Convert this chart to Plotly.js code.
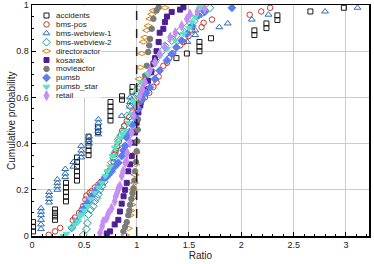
<!DOCTYPE html>
<html><head><meta charset="utf-8">
<script src="https://cdn.plot.ly/plotly-3.0.1.min.js"></script>
<style>html,body{margin:0;padding:0;background:#fff}#chart{width:374px;height:264px}</style>
</head><body><div id="chart"></div>
<script>
// ---- data ----
const seriesNames = ['accidents','bms-pos','bms-webview-1','bms-webview-2','directoractor','kosarak','movieactor','pumsb','pumsb_star','retail'];

const accidentsX = [0.01,0.01,0.01,0.22,0.22,0.22,0.22,0.325,0.325,0.325,0.325,0.325,0.43,0.43,0.43,0.43,0.43,0.43,0.54,0.54,0.54,0.54,0.54,0.63,0.63,0.75,0.75,0.75,0.75,0.75,0.86,0.86,0.96,0.96,1.38,1.48,1.60,1.60,1.60,1.71,2.125,2.125,2.24,2.24,2.345,2.345,2.66,2.98];
const accidentsY = [0.02,0.04,0.06,0.07,0.085,0.10,0.115,0.15,0.17,0.19,0.21,0.23,0.24,0.26,0.28,0.30,0.32,0.34,0.35,0.37,0.39,0.41,0.43,0.45,0.47,0.50,0.52,0.54,0.56,0.58,0.59,0.605,0.625,0.645,0.77,0.79,0.80,0.82,0.84,0.856,0.87,0.89,0.90,0.92,0.935,0.955,0.972,0.988];

const bmsPosX = [0.16,0.22,0.27,0.39,0.41,0.45,0.475,0.49,0.51,0.52,0.55,0.57,0.6,0.634,0.66,0.69,0.73,0.75,0.77,0.78,0.79,0.80,0.815,0.83,0.845,0.86,0.88,0.905,0.93,0.96,1.0,1.04,1.08,1.12,1.16,1.19,1.21,1.255,1.29,1.31,1.35,1.415,1.45,1.495,1.53,1.62,1.64,1.72,2.08,2.19,2.275];
const bmsPosY = [0.005,0.02,0.035,0.068,0.08,0.1,0.114,0.13,0.158,0.175,0.187,0.194,0.21,0.223,0.235,0.25,0.274,0.287,0.30,0.32,0.353,0.37,0.39,0.41,0.433,0.455,0.475,0.498,0.515,0.535,0.555,0.575,0.6,0.62,0.645,0.665,0.69,0.737,0.75,0.77,0.79,0.825,0.84,0.865,0.89,0.904,0.923,0.937,0.958,0.972,0.988];

const webview1X = [0.086,0.086,0.086,0.086,0.086,0.086,0.163,0.163,0.163,0.163,0.242,0.242,0.242,0.242,0.318,0.318,0.318,0.395,0.395,0.47,0.47,0.47,0.47,0.545,0.545,0.545,0.634,0.634,0.634,0.634,0.634,0.857,0.937,0.937,0.937,1.485,1.56,1.56,1.79,1.87,2.10,2.26,2.80,3.11];
const webview1Y = [0.03,0.05,0.07,0.09,0.105,0.12,0.145,0.16,0.175,0.19,0.20,0.215,0.23,0.245,0.255,0.27,0.29,0.30,0.32,0.34,0.355,0.37,0.39,0.40,0.415,0.43,0.44,0.455,0.47,0.49,0.505,0.52,0.56,0.58,0.60,0.84,0.87,0.89,0.904,0.92,0.937,0.958,0.972,0.988];

const webview2X = [0.49,0.52,0.53,0.54,0.56,0.586,0.60,0.618,0.634,0.65,0.67,0.69,0.71,0.73,0.76,0.78,0.79,0.81,0.825,0.85,0.87,0.89,0.91,0.937,0.97,1.0,1.03,1.06,1.11,1.14,1.18,1.21,1.24,1.27,1.335,1.38,1.415,1.48,1.55,1.62,1.65,1.70];
const webview2Y = [0.005,0.03,0.056,0.093,0.114,0.129,0.15,0.165,0.18,0.2,0.216,0.235,0.255,0.28,0.317,0.339,0.36,0.384,0.419,0.435,0.448,0.48,0.52,0.563,0.593,0.62,0.645,0.665,0.70,0.716,0.76,0.78,0.80,0.824,0.846,0.868,0.89,0.904,0.93,0.962,0.975,0.988];

const directorX = [0.89,0.92,0.937,0.945,0.953,0.962,0.97,0.978,0.985,0.99,0.993,0.996,1.0,1.005,1.01,1.016,1.025,1.035,1.05,1.064,1.08,1.096,1.11,1.128,1.145,1.16,1.27];
const directorY = [0.005,0.033,0.09,0.11,0.135,0.165,0.2,0.23,0.265,0.31,0.36,0.41,0.46,0.53,0.59,0.64,0.68,0.73,0.79,0.84,0.86,0.89,0.91,0.94,0.96,0.976,0.988];

const kosarakX = [0.714,0.746,0.79,0.825,0.84,0.857,0.875,0.89,0.905,0.92,0.937,0.953,0.97,0.985,1.0,1.016,1.035,1.05,1.08,1.11,1.14,1.16,1.176,1.19,1.21,1.22,1.255,1.27,1.29,1.335,1.415,1.447];
const kosarakY = [0.011,0.02,0.05,0.07,0.106,0.14,0.172,0.2,0.23,0.28,0.31,0.346,0.404,0.448,0.49,0.535,0.565,0.593,0.636,0.672,0.709,0.745,0.77,0.80,0.84,0.88,0.897,0.926,0.95,0.97,0.98,0.99];

const movieX = [0.873,0.89,0.905,0.92,0.93,0.937,0.95,0.96,0.97,0.978,0.985,0.993,1.0,1.005,1.01,1.013,1.016,1.03,1.05,1.065,1.08,1.097,1.11,1.12,1.128,1.144,1.16,1.19,1.21];
const movieY = [0.02,0.04,0.06,0.09,0.11,0.135,0.16,0.185,0.207,0.24,0.28,0.32,0.367,0.41,0.46,0.505,0.55,0.58,0.62,0.66,0.694,0.737,0.796,0.825,0.853,0.897,0.94,0.976,0.99];

const pumsbX = [0.38,0.43,0.475,0.50,0.52,0.55,0.57,0.60,0.63,0.66,0.70,0.73,0.76,0.79,0.825,0.857,0.875,0.89,0.905,0.93,0.96,0.985,1.016,1.05,1.09,1.128,1.176,1.22,1.29,1.335,1.38,1.43,1.48,1.53,1.59,1.65,1.91];
const pumsbY = [0.035,0.063,0.1,0.12,0.136,0.155,0.172,0.19,0.21,0.23,0.252,0.265,0.28,0.30,0.317,0.346,0.37,0.39,0.426,0.45,0.48,0.513,0.55,0.593,0.62,0.643,0.68,0.716,0.76,0.788,0.817,0.846,0.875,0.91,0.955,0.97,0.988];

const pumsbStarX = [0.30,0.33,0.38,0.41,0.44,0.46,0.475,0.50,0.53,0.56,0.60,0.634,0.666,0.70,0.72,0.746,0.77,0.79,0.815,0.84,0.865,0.89,0.92,0.95,0.975,1.0,1.05,1.11,1.176,1.22,1.29,1.37,1.45,1.50,1.53,1.56,1.61];
const pumsbStarY = [0.0,0.01,0.035,0.05,0.063,0.085,0.093,0.11,0.13,0.16,0.187,0.21,0.23,0.26,0.28,0.30,0.346,0.383,0.405,0.426,0.44,0.455,0.49,0.53,0.58,0.63,0.665,0.70,0.745,0.78,0.81,0.846,0.875,0.90,0.925,0.948,0.99];

const retailX = [0.65,0.67,0.68,0.714,0.73,0.76,0.79,0.80,0.816,0.825,0.84,0.857,0.87,0.89,0.905,0.91,0.937,0.953,0.97,1.0,1.03,1.055,1.08,1.128,1.176,1.22,1.27,1.32,1.37,1.43,1.48,1.51,1.58,1.65];
const retailY = [0.013,0.042,0.062,0.078,0.098,0.12,0.15,0.172,0.19,0.207,0.216,0.26,0.28,0.317,0.323,0.36,0.404,0.448,0.52,0.563,0.607,0.635,0.665,0.716,0.752,0.788,0.817,0.86,0.88,0.91,0.94,0.96,0.972,0.984];

const xTickVals = [0,0.5,1,1.5,2,2.5,3];
const xTickText = ['0','0.5','1','1.5','2','2.5','3'];
const yTickVals = [0,0.2,0.4,0.6,0.8,1];
const yTickText = ['0','0.2','0.4','0.6','0.8','1'];
const xTitle = 'Ratio';
const yTitle = 'Cumulative probability';

// ---- styles ----
const seriesXs = [accidentsX,bmsPosX,webview1X,webview2X,directorX,kosarakX,movieX,pumsbX,pumsbStarX,retailX];
const seriesYs = [accidentsY,bmsPosY,webview1Y,webview2Y,directorY,kosarakY,movieY,pumsbY,pumsbStarY,retailY];
const styles = [
  {symbol:'square-open', color:'#1a1a1a', size:5},
  {symbol:'circle-open', color:'#c8372d', size:5.5},
  {symbol:'triangle-up-open', color:'#2f6db5', size:6},
  {symbol:'diamond-open', color:'#1f9e9a', size:6},
  {symbol:'diamond-wide-open', color:'#d4820f', size:6},
  {symbol:'square', color:'#4e1f94', size:5},
  {symbol:'circle', color:'#7a7a7a', size:5.5},
  {symbol:'diamond', color:'#5c7cf5', size:6},
  {symbol:'triangle-down', color:'#58e3c6', size:6},
  {symbol:'diamond-tall', color:'#c88df2', size:7}
];
const FONT = 'Liberation Sans, Arial, Helvetica, sans-serif';

const traces = seriesNames.map((n,i)=>({
  type:'scatter', mode:'markers', name:n, x:seriesXs[i], y:seriesYs[i], showlegend:false,
  marker:{symbol:styles[i].symbol, color:styles[i].color, size:styles[i].size,
          line:{color:styles[i].color, width:1}}
}));

// custom compact legend (symbols on an overlay axis in pixel units)
const legMarkX = 14.5, legTextX = 22, legRow0 = 10.5, legStep = 8.9;
seriesNames.forEach((n,i)=>{
  traces.push({type:'scatter', mode:'markers', x:[legMarkX], y:[legRow0+i*legStep], xaxis:'x2', yaxis:'y2',
    showlegend:false, hoverinfo:'skip',
    marker:{symbol:styles[i].symbol, color:styles[i].color, size:styles[i].size,
            line:{color:styles[i].color, width:1}}});
});
const annotations = seriesNames.map((n,i)=>({
  xref:'x2', yref:'y2', x:legTextX, y:legRow0+i*legStep, text:n, showarrow:false,
  xanchor:'left', yanchor:'middle', font:{family:FONT, size:8, color:'#222'}
}));
annotations.push({xref:'paper', yref:'paper', x:-0.061, y:0.5, xanchor:'center', yanchor:'middle',
  text:yTitle, textangle:-90, showarrow:false, font:{family:FONT, size:10, color:'#222'}});

const layout = {
  width:374, height:264,
  margin:{l:32, r:5, t:5, b:28},
  paper_bgcolor:'#fff', plot_bgcolor:'#fff',
  font:{family:FONT, size:9, color:'#222'},
  showlegend:false,
  xaxis:{range:[0,3.22], tickvals:xTickVals, ticktext:xTickText, ticks:'inside', ticklen:4, tickcolor:'#000',
         minor:{dtick:0.1, tick0:0, ticks:'inside', ticklen:2, tickcolor:'#000', showgrid:false},
         showgrid:true, gridcolor:'#cccccc', gridwidth:1, zeroline:false,
         showline:true, linecolor:'#000', linewidth:1.5, mirror:true,
         tickfont:{size:9}, title:{text:xTitle, font:{size:10}, standoff:2}},
  yaxis:{range:[0,1], tickvals:yTickVals, ticktext:yTickText, ticks:'inside', ticklen:4, tickcolor:'#000',
         minor:{dtick:0.05, tick0:0, ticks:'inside', ticklen:2, tickcolor:'#000', showgrid:false},
         showgrid:true, gridcolor:'#cccccc', gridwidth:1, zeroline:false,
         showline:true, linecolor:'#000', linewidth:1.5, mirror:true,
         tickfont:{size:9}},
  xaxis2:{overlaying:'x', range:[0,337], visible:false, fixedrange:true},
  yaxis2:{overlaying:'y', range:[231,0], visible:false, fixedrange:true},
  shapes:[
    {type:'rect', xref:'x', yref:'y', x0:0.01, x1:0.66, y0:0.598, y1:0.995, fillcolor:'#fff', line:{width:0}, layer:'between'},
    {type:'line', xref:'x', yref:'y', x0:1, x1:1, y0:0, y1:1, line:{color:'#222', width:1.5, dash:'dash'}, layer:'above'}
  ],
  annotations:annotations
};
Plotly.newPlot('chart', traces, layout, {staticPlot:true, displayModeBar:false});
</script></body></html>
